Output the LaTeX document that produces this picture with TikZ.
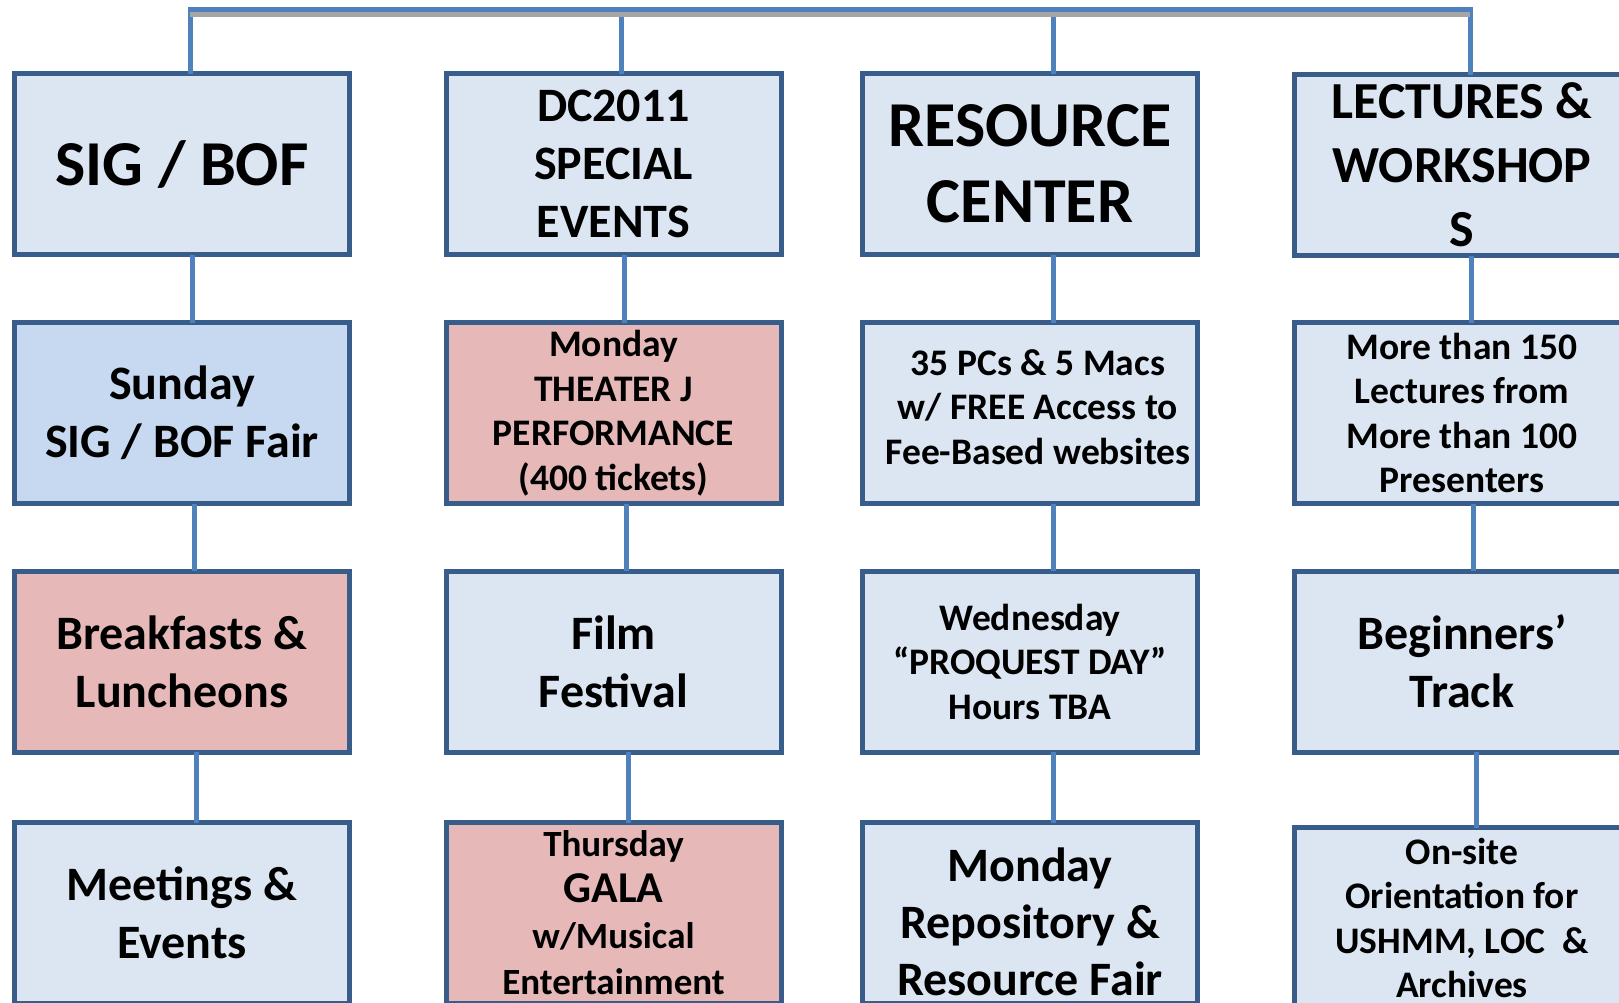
\documentclass[tikz,border=0pt]{standalone}
\usepackage{fontspec}
\setmainfont{Carlito}
\definecolor{boxfill}{HTML}{DCE6F2}
\definecolor{sunfill}{HTML}{C6D9F1}
\definecolor{pinkfill}{HTML}{E6B9B8}
\definecolor{boxline}{HTML}{385D8A}
\definecolor{connline}{HTML}{4F81BD}
\definecolor{topgray}{HTML}{A5A5A5}
\begin{document}
\begin{tikzpicture}[x=1pt,y=-1pt,
  box/.style={draw=boxline,line width=5pt,fill=boxfill,minimum width=335pt,
    minimum height=181pt,inner sep=0pt,outer sep=0pt,align=center},
  pinkbox/.style={box,fill=pinkfill},
  sunbox/.style={box,fill=sunfill},
  boxlabel/.style={align=center,inner sep=0pt},
  hugetext/.style={font=\bfseries\fontsize{64}{76}\selectfont},
  bigtext/.style={font=\bfseries\fontsize{48}{58}\selectfont},
  lectext/.style={font=\bfseries\fontsize{52}{64}\selectfont},
  smalltext/.style={font=\bfseries\fontsize{37.5}{44.5}\selectfont},
  conn/.style={connline,line width=5pt},
  grayline/.style={topgray,line width=5pt}]
\useasboundingbox (0,0) rectangle (1619,1002);
\clip (0,0) rectangle (1619,1002);
\coordinate (t1) at (190,9);
\coordinate (t2) at (621,9);
\coordinate (t3) at (1053,9);
\coordinate (t4) at (1470,9);

\node [box,hugetext] (sig) at (182,164) {SIG / BOF};
\node [box,bigtext] (dc) at (613.5,164) {DC2011\\SPECIAL\\EVENTS};
\node [box,hugetext] (res) at (1030,164) {RESOURCE\\CENTER};
\node [box,lectext] (lec) at (1462,165) {LECTURES \&\\WORKSHOP\\S};

\node [sunbox,bigtext] (sun) at (182,413) {Sunday\\SIG / BOF Fair};
\node [pinkbox,smalltext] (thea) at (613.5,413) {Monday\\THEATER J\\PERFORMANCE\\(400 tickets)};
\node [box] (pcs) at (1030,413) {};
\node [boxlabel,smalltext] (pcslabel) at ([xshift=8pt,yshift=6pt]pcs.center)
  {35 PCs \& 5 Macs\\w/ FREE Access to\\Fee-Based websites};
\node [box,smalltext] (more) at (1462,413) {More than 150\\Lectures from\\More than 100\\Presenters};

\node [pinkbox,bigtext] (brk) at (182,661.5) {Breakfasts \&\\Luncheons};
\node [box,bigtext] (film) at (613.5,661.5) {Film\\Festival};
\node [box,smalltext] (wed) at (1030,661.5) {Wednesday\\“PROQUEST DAY”\\Hours TBA};
\node [box,bigtext] (beg) at (1462,661.5) {Beginners’\\Track};

\node [box,bigtext] (meet) at (182,913) {Meetings \&\\Events};
\node [pinkbox,font=\bfseries\fontsize{37}{46}\selectfont] (gala) at (613.5,913)
  {Thursday\\{\fontsize{44}{46}\selectfont GALA}\\w/Musical\\Entertainment};
\node [box] (fair) at (1030,913) {};
\node [boxlabel,font=\bfseries\fontsize{48}{57}\selectfont] (fairlabel) at ([yshift=-9pt]fair.center)
  {Monday\\Repository \&\\Resource Fair};
\node [box,smalltext] (ons) at (1462,918) {On-site\\Orientation for\\USHMM, LOC\ \ \&\\Archives};

\draw [conn] (t1) -- (t1 |- sig.north);
\draw [conn] (t2) -- (t2 |- dc.north);
\draw [conn] (t3) -- (t3 |- res.north);
\draw [conn] (t4) -- (t4 |- lec.north);
\draw [conn] ([xshift=-2.5pt]t1) -- ([xshift=2.5pt]t4);
\draw [grayline] ([yshift=-5.5pt]t1) -- ([yshift=-5.5pt]t4);

\draw [conn] ([xshift=10pt]sig.south) -- ([xshift=10pt]sun.north);
\draw [conn] ([xshift=12pt]sun.south) -- ([xshift=12pt]brk.north);
\draw [conn] ([xshift=14pt]brk.south) -- ([xshift=14pt]meet.north);
\draw [conn] ([xshift=10.5pt]dc.south) -- ([xshift=10.5pt]thea.north);
\draw [conn] ([xshift=12.5pt]thea.south) -- ([xshift=12.5pt]film.north);
\draw [conn] ([xshift=14.5pt]film.south) -- ([xshift=14.5pt]gala.north);
\draw [conn] ([xshift=23pt]res.south) -- ([xshift=23pt]pcs.north);
\draw [conn] ([xshift=23pt]pcs.south) -- ([xshift=23pt]wed.north);
\draw [conn] ([xshift=23pt]wed.south) -- ([xshift=23pt]fair.north);
\draw [conn] ([xshift=9pt]lec.south) -- ([xshift=9pt]more.north);
\draw [conn] ([xshift=11pt]more.south) -- ([xshift=11pt]beg.north);
\draw [conn] ([xshift=14pt]beg.south) -- ([xshift=14pt]ons.north);
\end{tikzpicture}
\end{document}
